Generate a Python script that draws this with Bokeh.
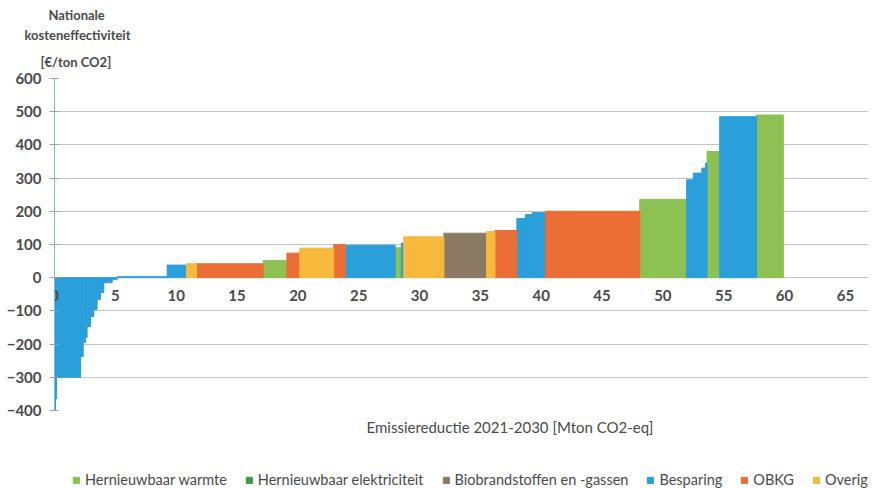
from bokeh.plotting import figure
from bokeh.models import (ColumnDataSource, FixedTicker, Legend, LegendItem, Title, Range1d)
from bokeh.layouts import column
from bokeh.core.properties import value
from bokeh.embed import file_html
from bokeh.resources import INLINE

# ---- data: each measure = (emission reduction width [Mton], cost [EUR/ton], category)
widths = [0.08, 0.08, 1.98, 0.22, 0.19, 0.13, 0.28, 0.27, 0.27, 0.28, 0.27, 0.69, 0.41,
          4.11, 1.59, 0.82, 5.48, 1.95, 1.06, 2.79, 0.95, 4.10, 0.50, 0.20, 3.30, 3.50,
          0.70, 1.80, 0.70, 0.55, 1.10, 7.75, 3.85, 0.55, 0.70, 0.30, 0.13, 1.04, 3.03, 2.20]
costs = [-400, -365, -300, -237, -195, -180, -147, -117, -96, -66, -45, -15, -5,
         3, 38, 42, 42, 52, 74, 89, 100, 98, 90, 104, 123, 134,
         139, 142, 178, 190, 196, 200, 236, 295, 315, 330, 345, 380, 485, 490]
cats = ["B", "B", "B", "B", "B", "B", "B", "B", "B", "B", "B", "B", "B",
        "B", "B", "O", "K", "HW", "K", "O", "K", "B", "HW", "B", "O", "BIO",
        "O", "K", "B", "B", "B", "K", "HW", "B", "B", "B", "B", "HW", "B", "HW"]

category_keys = ["HW", "HE", "BIO", "B", "K", "O"]
category_labels = ["Hernieuwbaar warmte", "Hernieuwbaar elektriciteit", "Biobrandstoffen en -gassen",
                   "Besparing", "OBKG", "Overig"]
category_colors = ["#8DC153", "#3D9A4B", "#8B7A63", "#2A9FDA", "#EA6E35", "#F7B93C"]

x_ticks = [0, 5, 10, 15, 20, 25, 30, 35, 40, 45, 50, 55, 60, 65]
y_ticks = [-400, -300, -200, -100, 0, 100, 200, 300, 400, 500, 600]
y_title_lines = ["Nationale", "kosteneffectiviteit", "[€/ton CO2]"]
x_title = "Emissiereductie 2021-2030 [Mton CO2-eq]"

FONT = "Lato"
TXT = "#4a4a4a"
W = 881

# ---- main figure
p = figure(width=W, height=452, output_backend="svg", toolbar_location=None,
           x_range=Range1d(0, 66.9), y_range=Range1d(-400, 600),
           min_border_left=54, min_border_right=13, min_border_top=78, min_border_bottom=42)
p.outline_line_color = None
p.xaxis.visible = False

# bars (x positions = cumulative emission reduction)
lefts, rights = [], []
acc = 0.0
for w in widths:
    lefts.append(acc)
    acc += w
    rights.append(acc)

nan = float("nan")
sources = {}
renderers = {}
for key, col in zip(category_keys, category_colors):
    idx = [i for i, c in enumerate(cats) if c == key]
    data = dict(left=[lefts[i] for i in idx], right=[rights[i] for i in idx],
                top=[max(costs[i], 0) for i in idx], bottom=[min(costs[i], 0) for i in idx])
    if not idx:  # category without measures
        data = dict(left=[nan], right=[nan], top=[nan], bottom=[nan])
    sources[key] = ColumnDataSource(data)
    renderers[key] = p.quad(left="left", right="right", top="top", bottom="bottom",
                            source=sources[key], fill_color=col, line_color=col, line_width=1)

# grid
p.xgrid.grid_line_color = None
p.ygrid.grid_line_color = "#c4c4c4"
p.ygrid.ticker = FixedTicker(ticks=y_ticks)

# y axis
p.yaxis.ticker = FixedTicker(ticks=y_ticks)
p.yaxis.axis_line_color = "#7db9df"
p.yaxis.major_tick_line_color = "#a0a0a0"
p.yaxis.major_tick_out = 5
p.yaxis.major_tick_in = 4
p.yaxis.minor_tick_line_color = None
p.yaxis.major_label_text_font = FONT
p.yaxis.major_label_text_font_style = "bold"
p.yaxis.major_label_text_font_size = "15px"
p.yaxis.major_label_text_color = TXT
p.yaxis.major_label_standoff = 8

# x tick labels along the zero line (the horizontal axis crosses at 0)
p.text(x=x_ticks, y=[0] * len(x_ticks), text=[str(t) for t in x_ticks],
       text_align="center", text_baseline="top", y_offset=12,
       text_font=value(FONT), text_font_style="bold", text_font_size="15px",
       text_color=TXT)

# x axis title below the plot (right of centre as in the original)
p.add_layout(Title(text=x_title, align="left", offset=312, standoff=11,
                   text_font=FONT, text_font_style="normal", text_font_size="15px",
                   text_color=TXT), "below")

# y axis title (three lines stacked above the plot, centred near the axis)
offsets = [-6, -30, -14]
standoffs = [4, 0, 18]
for line, off, so in reversed(list(zip(y_title_lines, offsets, standoffs))):
    p.add_layout(Title(text=line, align="left", offset=off, standoff=so,
                       text_font=FONT, text_font_style="bold", text_font_size="13px",
                       text_color=TXT), "above")

# ---- legend strip below the chart
leg = figure(width=W, height=36, output_backend="svg", toolbar_location=None,
             x_axis_type=None, y_axis_type=None, x_range=p.x_range,
             y_range=Range1d(1000, 1001), min_border=0)
leg.outline_line_color = None
leg_renderers = {}
for key, col in zip(category_keys, category_colors):
    leg_renderers[key] = leg.quad(left="left", right="right", top="top", bottom="bottom",
                                  source=sources[key], fill_color=col, line_color=col)
items = [LegendItem(label=lbl, renderers=[leg_renderers[k]])
         for k, lbl in zip(category_keys, category_labels)]
legend = Legend(items=items, orientation="horizontal", location=(18, 0),
                label_text_font=FONT, label_text_font_size="14.5px", label_text_color=TXT,
                glyph_width=8, glyph_height=8, label_height=14, spacing=18, padding=0,
                margin=0, label_standoff=5, border_line_color=None, background_fill_alpha=0)
leg.add_layout(legend)

layout = column(p, leg, spacing=0)
open("out.html", "w").write(file_html(layout, INLINE))
